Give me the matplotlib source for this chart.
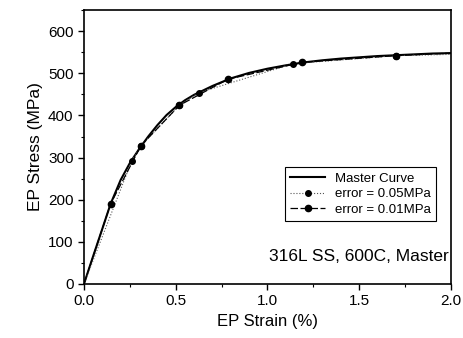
import matplotlib
matplotlib.use("Agg")
import matplotlib.pyplot as plt
from matplotlib.ticker import MultipleLocator

# master curve
master_strain = [0.0, 0.05, 0.1, 0.145, 0.2, 0.25, 0.3, 0.35, 0.4, 0.45, 0.5, 0.55,
                 0.6, 0.7, 0.8, 0.9, 1.0, 1.1, 1.2, 1.3, 1.4, 1.5, 1.6, 1.7, 1.8, 1.9, 2.0]
master_stress = [0, 66, 131, 190, 247, 287, 320, 350, 377, 401, 420, 436,
                 449, 470, 488, 501, 511, 519, 526, 531, 535, 538, 541, 543, 545, 547, 548]

# error = 0.05 MPa
e05_strain = [0.0, 0.26, 0.31, 0.52, 0.625, 1.14, 1.70, 2.0]
e05_stress = [0, 292, 328, 424, 454, 523, 542, 545]

# error = 0.01 MPa
e01_strain = [0.0, 0.145, 0.31, 0.52, 0.784, 1.188, 1.70, 2.0]
e01_stress = [0, 190, 328, 424, 486, 526, 542, 548]

plt.rcParams['font.family'] = ['Liberation Sans', 'DejaVu Sans']

fig = plt.figure(figsize=(4.64, 3.38), dpi=100)
ax = fig.add_axes([0.181, 0.16, 0.791, 0.81])

ax.plot(master_strain, master_stress, color='black', lw=1.5, label='Master Curve')
ax.plot(e05_strain, e05_stress, color='#555555', lw=0.8, ls=':', marker='o', ms=4,
        markevery=list(range(1, 7)), mfc='black', mec='black', label='error = 0.05MPa')
ax.plot(e01_strain, e01_stress, color='black', lw=0.9, ls=(0, (6, 2)), marker='o', ms=4.5,
        markevery=list(range(1, 7)), mfc='black', mec='black', label='error = 0.01MPa')

ax.set_xlim(0, 2.0)
ax.set_ylim(0, 650)
ax.xaxis.set_major_locator(MultipleLocator(0.5))
ax.xaxis.set_minor_locator(MultipleLocator(0.25))
ax.yaxis.set_major_locator(MultipleLocator(100))
ax.yaxis.set_minor_locator(MultipleLocator(50))
ax.tick_params(which='major', direction='out', length=4, width=1, labelsize=11)
ax.tick_params(which='minor', direction='out', length=2, width=0.8)
ax.set_xticks([0, 0.5, 1.0, 1.5, 2.0])
ax.set_xticklabels(['0.0', '0.5', '1.0', '1.5', '2.0'])
for s in ax.spines.values():
    s.set_linewidth(1.2)

ax.set_xlabel('EP Strain (%)', fontsize=12)
ax.set_ylabel('EP Stress (MPa)', fontsize=12.5)

leg = ax.legend(loc='upper left', bbox_to_anchor=(0.53, 0.45), fontsize=9.5, frameon=True,
                fancybox=False, edgecolor='black', framealpha=1, handlelength=2.6,
                borderpad=0.4, labelspacing=0.25)
leg.get_frame().set_linewidth(0.8)

ax.text(0.995, 0.10, '316L SS, 600C, Master', transform=ax.transAxes, ha='right',
        va='center', fontsize=12.5)

fig.savefig('out.png', dpi=100)
